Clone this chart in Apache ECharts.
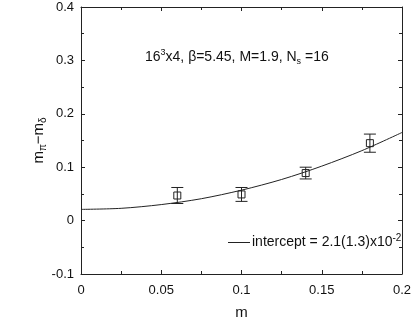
<!DOCTYPE html>
<html>
<head>
<meta charset="utf-8">
<script src="https://cdn.jsdelivr.net/npm/echarts@6/dist/echarts.min.js"></script>
<style>
  html, body { margin: 0; padding: 0; background: #fff; }
  #chart { width: 415px; height: 321px; }
</style>
</head>
<body>
<div id="chart"></div>
<script>
// measured points: m, m_pi - m_delta, error
const mValues = [0.06, 0.10, 0.14, 0.18]
const diffValues = [0.047, 0.049, 0.089, 0.145]
const diffErrors = [0.015, 0.013, 0.011, 0.017]

// fit curve
const fitM = [0, 0.025, 0.05, 0.075, 0.1, 0.125, 0.15, 0.175, 0.2]
const fitValues = [0.021, 0.023, 0.030, 0.041, 0.057, 0.077, 0.102, 0.131, 0.165]

const xTickLabels = ['0', '0.05', '0.1', '0.15', '0.2']
const yTickLabels = ['-0.1', '0', '0.1', '0.2', '0.3', '0.4']

const font = 'Liberation Sans, Arial, sans-serif'
const ink = '#222'

const chart = echarts.init(document.getElementById('chart'))

const points = mValues.map((m, i) => [m, diffValues[i], diffErrors[i]])
const fit = fitM.map((m, i) => [m, fitValues[i]])

function pickLabel(list, min, step) {
  return function (v) {
    const i = Math.round((v - min) / step)
    return list[i] !== undefined ? list[i] : ''
  }
}

const frameAxis = {
  min: 0,
  max: 0.2,
  interval: 0.05,
  axisLine: { show: true, onZero: false, lineStyle: { color: ink, width: 1 } },
  axisTick: { show: true, inside: true, length: 4, lineStyle: { color: ink } },
  minorTick: { show: true, splitNumber: 2, length: 3, lineStyle: { color: ink } },
  splitLine: { show: false }
}

const txt = { color: '#111', fontFamily: font, fontWeight: 'normal' }

const option = {
  animation: false,
  textStyle: { fontFamily: font },
  title: {
    text: '{a|16}{sup|3}{a|x4, β=5.45, M=1.9, N}{sub|s}{a| =16}',
    left: 145,
    top: 48,
    padding: 0,
    textStyle: {
      fontWeight: 'normal',
      rich: {
        a: Object.assign({ fontSize: 14 }, txt),
        sup: Object.assign({ fontSize: 9, verticalAlign: 'bottom', padding: [0, 0, 10, 0] }, txt),
        sub: Object.assign({ fontSize: 9, verticalAlign: 'top', padding: [9, 0, 0, 0] }, txt)
      }
    }
  },
  legend: {
    left: 228,
    top: 233,
    padding: 0,
    data: ['fit'],
    icon: 'rect',
    itemWidth: 22,
    itemHeight: 1,
    formatter() {
      return '{a|intercept = 2.1(1.3)x10}{sup|-2}'
    },
    textStyle: {
      padding: [0, 0, 0, -3],
      rich: {
        a: Object.assign({ fontSize: 14 }, txt),
        sup: Object.assign({ fontSize: 10, verticalAlign: 'bottom', padding: [0, 0, 9, 0] }, txt)
      }
    }
  },
  grid: {
    left: 81,
    right: 13,
    top: 7,
    bottom: 47,
    containLabel: false,
    outerBoundsMode: 'none'
  },
  xAxis: [
    Object.assign({}, frameAxis, {
      type: 'value',
      position: 'bottom',
      name: 'm',
      nameLocation: 'middle',
      nameGap: 31,
      nameMoveOverlap: false,
      nameTextStyle: Object.assign({ fontSize: 15 }, txt),
      axisLabel: Object.assign({
        margin: 10,
        fontSize: 13,
        formatter: pickLabel(xTickLabels, 0, 0.05)
      }, txt)
    }),
    Object.assign({}, frameAxis, {
      type: 'value',
      position: 'top',
      axisLabel: { show: false }
    })
  ],
  yAxis: [
    Object.assign({}, frameAxis, {
      type: 'value',
      min: -0.1,
      max: 0.4,
      interval: 0.1,
      position: 'left',
      name: '{a|m}{s|π}{a|−m}{s|δ}',
      nameLocation: 'middle',
      nameGap: 33,
      nameMoveOverlap: false,
      nameTextStyle: {
        rich: {
          a: Object.assign({ fontSize: 15 }, txt),
          s: Object.assign({ fontSize: 10, verticalAlign: 'top', padding: [9, 0, 0, 0] }, txt)
        }
      },
      axisLabel: Object.assign({
        margin: 7,
        fontSize: 13,
        formatter: pickLabel(yTickLabels, -0.1, 0.1)
      }, txt)
    }),
    Object.assign({}, frameAxis, {
      type: 'value',
      min: -0.1,
      max: 0.4,
      interval: 0.1,
      position: 'right',
      axisLabel: { show: false }
    })
  ],
  series: [
    {
      name: 'fit',
      type: 'line',
      data: fit,
      smooth: 0.3,
      showSymbol: false,
      lineStyle: { color: ink, width: 1 },
      itemStyle: { color: ink },
      z: 2
    },
    {
      name: 'errors',
      type: 'custom',
      data: points,
      renderItem(params, api) {
        const x = api.value(0)
        const y = api.value(1)
        const e = api.value(2)
        const top = api.coord([x, y + e])
        const bot = api.coord([x, y - e])
        const c = api.coord([x, y])
        const w = 6
        const s = 3.5
        const style = { stroke: ink, lineWidth: 1, fill: null }
        return {
          type: 'group',
          children: [
            { type: 'line', shape: { x1: top[0], y1: top[1], x2: bot[0], y2: bot[1] }, style },
            { type: 'line', shape: { x1: top[0] - w, y1: top[1], x2: top[0] + w, y2: top[1] }, style },
            { type: 'line', shape: { x1: bot[0] - w, y1: bot[1], x2: bot[0] + w, y2: bot[1] }, style },
            { type: 'rect', shape: { x: c[0] - s, y: c[1] - s, width: 2 * s, height: 2 * s }, style }
          ]
        }
      },
      z: 3
    }
  ]
}

chart.setOption(option)
</script>
</body>
</html>
